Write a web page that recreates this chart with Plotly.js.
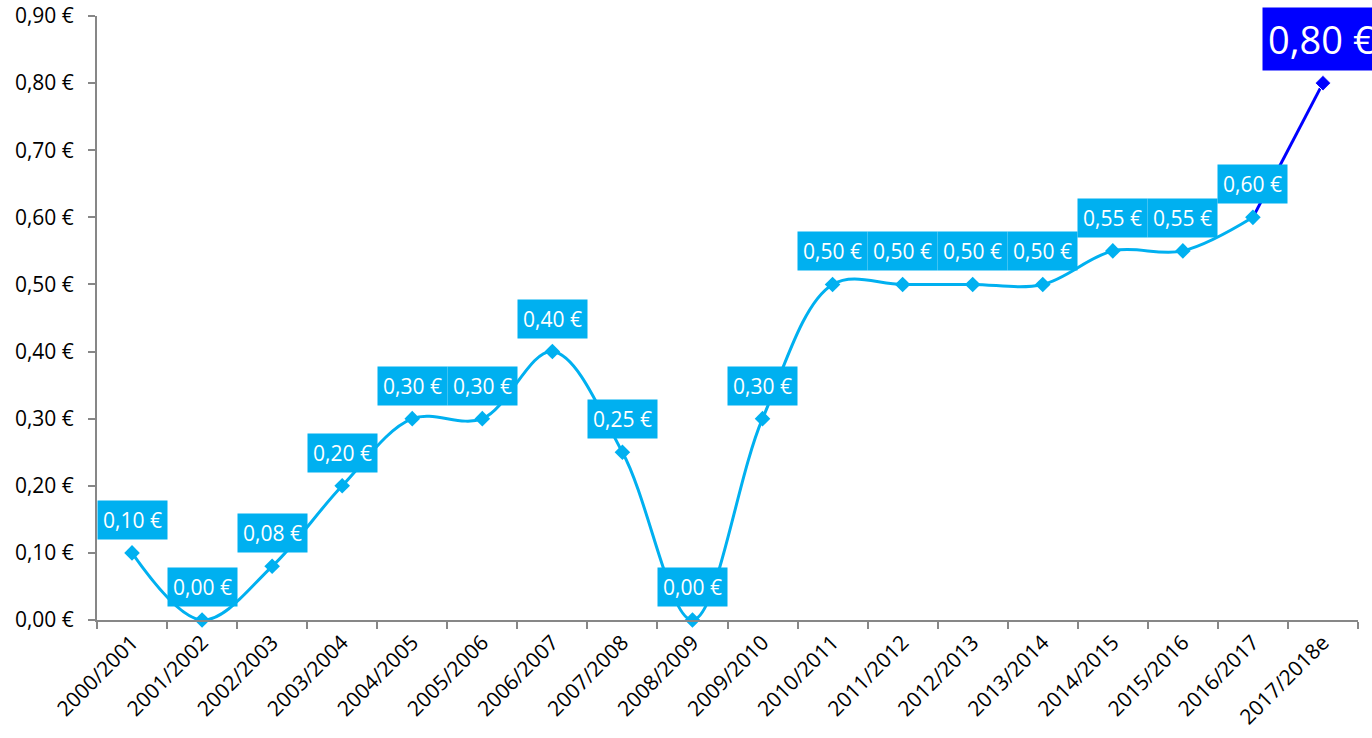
<!DOCTYPE html>
<html>
<head>
<meta charset="utf-8">
<script src="https://cdn.plot.ly/plotly-3.0.1.min.js"></script>
<style>html,body{margin:0;padding:0;background:#fff;overflow:hidden}#chart{width:1372px;height:738px}</style>
</head>
<body>
<div id="chart"></div>
<script>
const seasons = ["2000/2001","2001/2002","2002/2003","2003/2004","2004/2005","2005/2006","2006/2007","2007/2008","2008/2009","2009/2010","2010/2011","2011/2012","2012/2013","2013/2014","2014/2015","2015/2016","2016/2017","2017/2018e"];
const dividends = [0.10,0.00,0.08,0.20,0.30,0.30,0.40,0.25,0.00,0.30,0.50,0.50,0.50,0.50,0.55,0.55,0.60,0.80];
const yTickVals = [0,0.1,0.2,0.3,0.4,0.5,0.6,0.7,0.8,0.9];
const yTickText = ["0,00 €","0,10 €","0,20 €","0,30 €","0,40 €","0,50 €","0,60 €","0,70 €","0,80 €","0,90 €"];

const fmt = v => v.toFixed(2).replace('.', ',') + ' €';
const LIGHT = '#00B0F0', DARK = '#0000FF';
const n = dividends.length;

const histX = seasons.slice(0, n - 1), histY = dividends.slice(0, n - 1);
const estX = seasons.slice(n - 2), estY = dividends.slice(n - 2);

const traces = [
  {x: estX, y: estY, type: 'scatter', mode: 'lines+markers', cliponaxis: false,
   line: {color: DARK, width: 3}, marker: {symbol: 'diamond', size: [0, 12], color: DARK, opacity: 1},
   hoverinfo: 'skip'},
  {x: histX, y: histY, type: 'scatter', mode: 'lines+markers', cliponaxis: false,
   line: {color: LIGHT, width: 3, shape: 'spline', smoothing: 1},
   marker: {symbol: 'diamond', size: 12, color: LIGHT}, hoverinfo: 'skip'}
];

const annotations = seasons.map((s, i) => {
  const last = i === n - 1;
  return {
    x: s, y: dividends[i], xref: 'x', yref: 'y', text: fmt(dividends[i]),
    showarrow: false, yshift: last ? 44 : 33,
    bgcolor: last ? DARK : LIGHT, borderpad: last ? 5 : 5,
    font: {family: 'Open Sans', size: last ? 38 : 21, color: '#ffffff'},
    xanchor: last ? 'left' : 'center', xshift: last ? -61 : 0
  };
});

const layout = {
  width: 1372, height: 738,
  margin: {l: 97, r: 14, t: 16, b: 118},
  paper_bgcolor: '#fff', plot_bgcolor: '#fff',
  showlegend: false,
  font: {family: 'Open Sans', size: 21, color: '#000'},
  xaxis: {type: 'category', categoryorder: 'array', categoryarray: seasons,
          range: [-0.5, 17.5], showgrid: false, zeroline: false,
          showline: true, linecolor: '#878787', linewidth: 2,
          ticks: 'outside', tickson: 'boundaries', ticklen: 7, tickcolor: '#878787', tickwidth: 2,
          tickangle: -45, tickfont: {family: 'Open Sans', size: 21, color: '#000'}},
  yaxis: {range: [0, 0.9], showgrid: false, zeroline: false,
          showline: true, linecolor: '#878787', linewidth: 2,
          ticks: 'outside', ticklen: 7, tickcolor: '#878787', tickwidth: 2,
          tickvals: yTickVals, ticktext: yTickText, ticklabelstandoff: 10,
          tickfont: {family: 'Open Sans', size: 21, color: '#000'}},
  annotations: annotations
};

Plotly.newPlot('chart', traces, layout, {displayModeBar: false, staticPlot: true});
</script>
</body>
</html>
